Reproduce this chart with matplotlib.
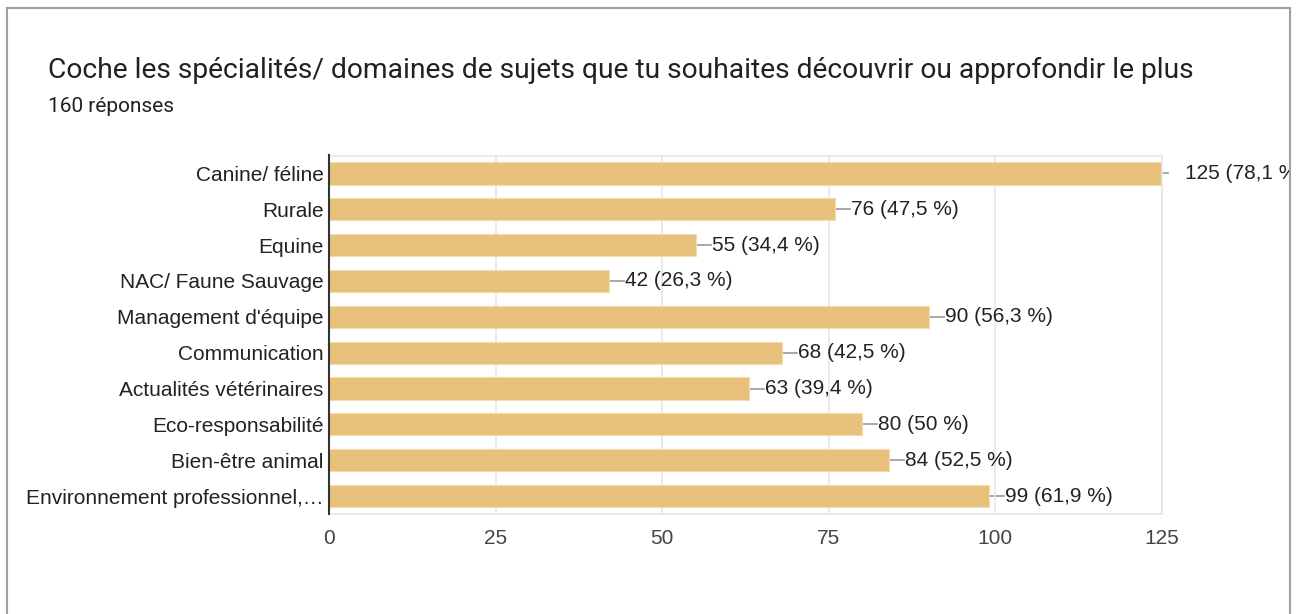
import numpy as np
import matplotlib as mpl
mpl.use("Agg")
from matplotlib import pyplot as plt
from matplotlib.patches import Rectangle

categories = ["Canine/ féline", "Rurale", "Equine", "NAC/ Faune Sauvage",
              "Management d'équipe", "Communication", "Actualités vétérinaires",
              "Eco-responsabilité", "Bien-être animal", "Environnement professionnel,…"]
counts = [125, 76, 55, 42, 90, 68, 63, 80, 84, 99]
percents = ["78,1", "47,5", "34,4", "26,3", "56,3", "42,5", "39,4", "50", "52,5", "61,9"]
xticks = [0, 25, 50, 75, 100, 125]

W, H = 1303, 614
fig = plt.figure(figsize=(W / 100, H / 100), dpi=100)

# card border (screenshot of a form card)
card = Rectangle((7 / W, -0.1), (1290 - 7) / W, 1 - 8 / H + 0.1, transform=fig.transFigure,
                 fill=False, edgecolor="#a0a0a0", lw=1.5)
fig.add_artist(card)

fig.text(48 / W, 1 - 70 / H, "Coche les spécialités/ domaines de sujets que tu souhaites découvrir ou approfondir le plus",
         fontsize=20.3, family="Roboto", color="#202124", va="center")
fig.text(48 / W, 1 - 106 / H, "160 réponses", fontsize=15, family="Roboto", color="#202124", va="center")

ax = fig.add_axes([329 / W, 1 - 514 / H, (1162 - 329) / W, (514 - 155.5) / H])
y = np.arange(len(categories))
ax.barh(y, counts, height=0.62, color="#e8c17a", edgecolor="#f3dcae", lw=0.8, zorder=2)
ax.set_ylim(len(categories) - 0.5, -0.5)
ax.set_xlim(0, 125)
ax.set_xticks(xticks)
ax.set_yticks(y)
ax.set_yticklabels(categories, family="Liberation Sans", fontsize=15, color="#222222")
ax.set_xticklabels([str(t) for t in xticks], family="Liberation Sans", fontsize=15, color="#444444")
ax.tick_params(axis="both", length=0)
ax.tick_params(axis="y", pad=4)
ax.tick_params(axis="x", pad=11)
ax.grid(axis="x", color="#e6e6e6", lw=1.2, zorder=0)
for side in ["top", "right", "bottom"]:
    ax.spines[side].set_color("#e6e6e6")
    ax.spines[side].set_linewidth(1.2)
ax.spines["left"].set_color("#333333")
ax.spines["left"].set_linewidth(1.5)
ax.spines["left"].set_zorder(3)

# the card cuts off anything past its right edge
clip = Rectangle((7 / W, 0), (1289 - 7) / W, 1, transform=fig.transFigure, visible=False)
fig.add_artist(clip)
px = 125 / (1162 - 329)  # data units per pixel
for i, (c, p) in enumerate(zip(counts, percents)):
    gap = 6 if c == 125 else 15
    ax.plot([c, c + gap * px], [i, i], color="#999999", lw=1.2, clip_on=False, zorder=1)
    t = ax.text(c + (gap + 1) * px + (16 * px if c == 125 else 0), i, "{} ({} %)".format(c, p),
                family="Liberation Sans", fontsize=15, color="#222222", va="center")
    t.set_clip_path(clip)
    t.set_clip_on(True)

fig.savefig("out.png", dpi=100)
